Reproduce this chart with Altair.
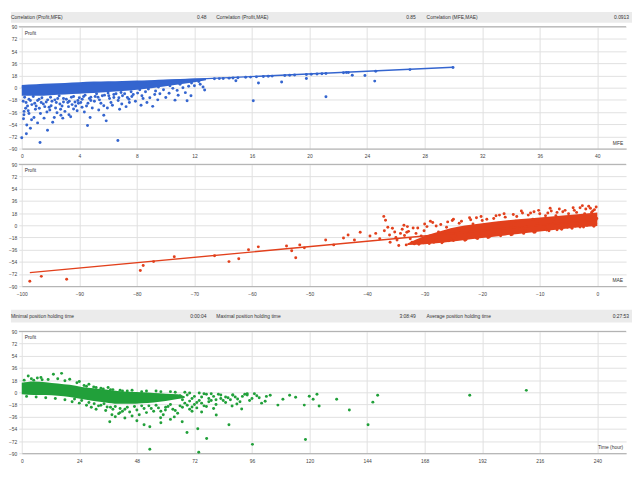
import altair as alt
import pandas as pd

FONT = "Liberation Sans Narrow, Liberation Sans, Arial, sans-serif"
W = 615
H = 124

y_ticks = [-90, -72, -54, -36, -18, 0, 18, 36, 54, 72, 90]

# ---------------- panel 1 : Profit vs MFE ----------------
mfe_ticks = [0, 4, 8, 12, 16, 20, 24, 28, 32, 36, 40]
mfe_band_x = [0, 1, 2, 3, 4, 5, 6, 7, 8, 9, 10, 11, 12, 12.8]
mfe_band_hi = [4, 5, 6, 7, 8, 9, 9.5, 10, 10.5, 11, 12, 12.8, 13.5, 14]
mfe_band_lo = [-12, -12, -11, -10, -9, -8, -6.5, -5, -3, -1, 2, 5, 8, 11]
mfe_points = [
    [0, -74], [0.32, -68], [1.27, -81], [1.79, -63], [0.68, -47.5], [0.16, -35], [0.12, -46],
    [2.15, -51], [2.26, -44], [2.72, -40.6], [3.28, -40], [4.57, -56], [5.7, -40.6], [5.87, -49],
    [6.68, -78], [4.19, -29], [3.94, -23], [0.27, -30.5], [0.95, -32], [1.22, -30.5], [1.75, -36],
    [0.45, -34], [2.04, -26.6], [2.65, -24], [3.0, -35], [3.2, -22], [3.6, -31.5], [4.2, -17],
    [4.8, -19], [5.1, -13], [5.7, -26.6], [6.2, -22], [6.4, -14.5], [6.8, -32], [6.7, -19],
    [0.2, -14], [0.5, -17], [0.8, -13], [1.1, -19], [1.4, -15], [1.7, -21], [2.0, -14], [2.3, -18],
    [2.6, -12], [2.9, -16], [3.3, -20], [3.6, -13], [4.0, -15], [4.4, -11], [4.8, -14], [5.2, -9],
    [5.6, -12], [6.0, -8], [6.4, -10], [6.9, -7], [0.3, -22], [0.7, -25], [1.0, -27], [1.5, -24],
    [1.9, -29], [2.4, -22], [2.8, -27], [3.5, -25], [3.9, -19], [4.6, -23], [5.4, -18], [6.1, -16],
    [7.0, -12], [7.6, -6], [8.2, -3], [8.8, -2], [9.5, 1], [10.3, 3], [11, 5], [11.8, 7], [12.3, 9],
    [7.48, -21.8], [8.43, -16], [9.1, -27.6], [9.24, -10.2], [8.29, -26], [7.75, -10], [7.34, -14.5],
    [10.87, -11.2], [11.37, -7.3], [10.24, -8.3], [11.76, -12], [10.01, -14.5], [10.65, -18.4],
    [11.49, -19.3], [16.09, -19.3], [21.14, -13.5], [12.71, -3.3],
    [14.88, 10.2], [16.45, 6.8], [18.06, 8.3], [19.78, 13.5], [22.97, 18.4], [23.85, 17.9], [24.53, 9.7],
    [13.39, 13.1], [13.73, 13.4], [14.0, 13.7], [14.41, 14.1], [14.68, 14.4], [15.02, 14.7],
    [15.56, 15.3], [15.9, 15.6], [16.31, 16.0], [16.79, 16.5], [17.13, 16.8], [17.4, 17.1],
    [18.28, 18.0], [18.62, 18.3], [18.96, 18.7], [19.78, 19.5], [20.12, 19.8], [20.52, 20.2],
    [20.86, 20.6], [21.14, 20.9], [22.36, 22.1], [22.56, 22.3], [22.7, 22.4], [24.6, 24.3],
    [26.98, 26.7], [29.97, 29.8],
    [0.1, -20], [0.4, -27], [0.6, -19], [0.9, -23], [0.15, -40], [0.5, -38], [0.85, -44],
    [0.35, -55], [0.6, -60], [1.2, -17], [1.35, -22], [1.6, -28], [1.8, -18], [1.95, -33],
    [1.3, -38], [1.55, -45], [1.1, -52], [2.1, -20], [2.35, -30], [2.5, -16], [2.7, -32],
    [2.9, -21], [2.45, -37], [2.85, -45], [3.1, -17], [3.25, -28], [3.45, -14], [3.7, -21],
    [3.85, -34], [3.4, -43], [3.75, -27], [4.1, -22], [4.3, -13], [4.5, -27], [4.7, -16],
    [4.9, -30], [4.35, -36], [4.75, -44], [5.05, -20], [5.3, -14], [5.5, -23], [5.75, -11],
    [5.95, -30], [5.35, -33], [6.05, -12], [6.3, -26], [6.55, -9], [6.75, -15], [6.95, -24],
    [7.15, -9], [7.45, -17], [7.65, -13], [7.9, -20], [7.25, -28], [8.05, -8], [8.35, -12],
    [8.6, -6], [8.9, -15], [8.7, -22], [9.3, -5], [9.6, -9], [9.85, -3], [9.45, -18],
    [10.5, -1], [10.8, -4], [11.2, 0], [11.6, 2], [12.0, 3], [12.4, 5], [12.6, 1],
]
mfe_fit_x = [0, 29.97]
mfe_fit_y = [0.8, 30.1]

# ---------------- panel 2 : Profit vs MAE ----------------
mae_ticks = [-100, -90, -80, -70, -60, -50, -40, -30, -20, -10, 0]
mae_band_x = [-33, -30, -27, -24, -20, -16, -12, -8, -4, 0]
mae_band_hi = [-27, -16, -8, -2, 3, 7, 10, 13, 16, 19]
mae_band_lo = [-29, -28, -26, -23, -19, -15, -11, -7.5, -3.5, -1]
mae_points = [
    [-98.6, -82.7], [-96.6, -75.5], [-92.2, -79.8], [-79.4, -66.8], [-78.9, -59.5], [-77.1, -53.7],
    [-73.5, -46.4], [-66.5, -45], [-64.0, -53.7], [-62.3, -49.4], [-60.6, -36.3], [-58.9, -31.9],
    [-54.0, -30.5], [-53.1, -37.7], [-52.4, -47.9], [-51.7, -29], [-50.9, -33.4], [-47.2, -21.8],
    [-45.8, -29], [-44.1, -18.9], [-43.3, -14.5], [-42.2, -21.8], [-41.2, -10.2], [-39.5, -16],
    [-37.1, 13.1], [-36.8, 7.3], [-36.1, -14.5], [-35.6, -4.4], [-34.8, -21.8], [-33.9, -5.8],
    [-33.1, -10.2],
    [-32, -4], [-30, 2], [-28, -1], [-26, 5], [-24, 3], [-22, 8], [-20, 7], [-18, 10], [-16, 12],
    [-14, 13], [-12, 15], [-10, 17], [-8, 21], [-7, 19], [-6, 20], [-4, 22], [-3, 26], [-2, 24],
    [-1, 19], [-0.5, 23], [-13, 18], [-9, 14], [-5, 17], [-1.5, 28], [-11, 20], [-17, 15],
    [-21, 11], [-25, 9], [-29, 6], [-33, -2],
    [-34.5, -30], [-31, -28], [-27, -26], [-23, -22], [-19, -18], [-15, -14], [-11, -10.5],
    [-7, -6.5], [-3, -2.5], [-36, -25], [-35, -18], [-33.5, -15], [-32.5, -20], [-31.5, -12],
    [-30.5, -24], [-29, -16], [-28, -22], [-26.5, -12], [-25.5, -20], [-24, -8], [-22.5, -14],
    [-21, -19], [-19.5, -5], [-18, -12], [-16.5, -8], [-15, 0], [-13.5, -6], [-12, -2],
    [-10.5, 2], [-9, -4], [-7.5, 5], [-6, 0], [-4.5, 9], [-3.5, 3], [-2, 6], [-1, 12], [-0.3, 3],
    [-38.5, -12], [-37.8, -20], [-37, -8], [-36.4, -3], [-35.2, -10], [-34.2, -12], [-33.6, 0],
    [-32.8, -9], [-32.2, -25], [-31.2, -4], [-30.6, -16], [-30.1, -8], [-29.6, -2], [-29.2, -27],
    [-28.6, 4], [-27.6, -10], [-27.2, 1], [-26.2, -3], [-25.8, -23], [-25.2, 7], [-24.6, -16],
    [-23.6, 6], [-23.2, -4], [-22.2, 11], [-21.6, 2], [-20.6, -12], [-20.2, 13], [-19.2, 9],
    [-18.6, -16], [-17.6, 14], [-17.2, 3], [-16.2, 17], [-15.6, -10], [-14.6, 16], [-14.2, 6],
    [-13.2, 21], [-12.6, -8], [-11.6, 18], [-11.2, 9], [-10.2, 22], [-9.6, -6], [-8.6, 18],
    [-8.2, 25], [-7.2, 14], [-6.6, 24], [-5.6, 22], [-5.2, -3], [-4.2, 26], [-3.6, 19],
    [-2.6, 29], [-2.2, 17], [-1.2, 25], [-0.8, 21], [-0.2, 27], [-0.1, 10], [-1.8, 0],
    [-3.8, -1], [-6.4, -4], [-8.8, -7],
    [-33.2, -29], [-31.8, -27.5], [-30.2, -26], [-28.4, -25], [-26.8, -24], [-25, -22.5],
    [-22.8, -21], [-20.8, -19.5], [-18.8, -17.5], [-16.8, -15.5], [-14.8, -13.5],
    [-12.8, -12], [-10.8, -10], [-8.4, -8], [-6.2, -6], [-4.4, -4.5], [-2.4, -2.5], [-0.6, -1.5],
]
mae_fit_x = [-98.6, 0]
mae_fit_y = [-70, 8]

# ---------------- panel 3 : Profit vs holding time ----------------
time_ticks = [0, 24, 48, 72, 96, 120, 144, 168, 192, 216, 240]
time_band_x = [0, 5, 10, 15, 20, 25, 30, 35, 40, 45, 50, 55, 60, 65, 68]
time_band_hi = [14, 16, 15, 13, 11, 8, 6, 4, 2, 1, 0, -1, -2, -3, -6]
time_band_lo = [-3, -4, -4, -5, -7, -10, -13, -15, -17, -17, -16, -15, -13, -10, -8]
time_points = [
    [2.7, 24], [13.2, 26.6], [16.6, 28], [20, 19.3], [1, 18], [4, 20], [6.5, 21], [8.5, 18.5],
    [11, 19], [15, 20], [18, 17], [23, 14], [26, 10], [28, 12], [33, 6], [37, 4], [42, 2], [8, 22],
    [5, 18], [24, 16], [30, 8], [36, 7], [44, 2], [50, 1], [56, 2], [62, 1], [68, 0], [74, -1],
    [79, -2],
    [34.3, -17], [36.7, -43.5], [37.6, -33], [40.4, -31.5], [41, -24], [35.6, -21.8], [30.2, -17],
    [51.0, -47.9], [53.4, -50.8], [57.9, -37.7], [59.9, -26.1], [63.6, -36.3], [66.9, -43.5],
    [68.9, -59.5], [71.0, -21.8], [73.4, -53.7], [75.0, -29], [77.1, -68.2], [81.1, -33.4],
    [86.4, -47.9], [87.7, -20.3], [89.7, -17.4], [91.7, -24.7], [96.2, -76.9], [101.5, -13.1],
    [103.6, -4.4], [106.8, -18.9], [108.9, -10.2], [111.7, -4.4], [114.2, -7.3], [117.8, -18.9],
    [119.9, -5.8], [121.5, -10.2], [123.1, -2.9], [124.0, -20.3], [131.3, -10.2], [136.6, -26.1],
    [144.4, -47.9], [146.4, -14.5], [148.4, -4.4], [186.8, -4.4], [210.4, 2.9],
    [53.4, -84.2], [73.8, -88.5], [118.3, -69.7],
    [32, -20], [38, -25], [42, -28], [44, -22], [46, -35], [48, -26], [50, -20], [52, -30],
    [54, -24], [56, -19], [58, -28], [60, -22], [62, -18], [64, -27], [66, -20], [68, -16],
    [70, -25], [72, -18], [76, -20], [78, -14], [80, -24], [84, -12], [86, -8], [88, -4],
    [90, -10], [92, -6], [94, -2], [96, -9], [98, -5], [28, -15], [25, -12], [22, -10],
    [2, -6], [6, -7], [10, -8], [14, -9], [18, -11], [21, -14], [24, -16], [27, -19], [29, -22],
    [31, -25], [33, -19], [35, -27], [37, -22], [39, -21], [41, -30], [43, -25], [45, -29],
    [47, -21], [49, -33], [51, -24], [53, -20], [55, -28], [57, -23], [59, -33], [61, -21],
    [63, -25], [65, -31], [67, -22], [69, -19], [71, -28], [73, -23], [75, -16], [77, -21],
    [79, -12], [81, -18], [83, -9], [85, -15], [87, -11], [89, -7], [91, -14], [93, -3],
    [95, -12], [97, -2], [99, -8], [100, -16], [102, -6], [43, -38], [48, -42], [58, -45],
    [62, -40], [39, -36],
    [27, 9], [31, 7], [34, 5], [38, 4], [41, 3], [46, 3], [52, 2], [58, 1], [64, 0], [70, -1],
    [76, -2], [82, -3], [88, -4], [94, -4],
    [69, -4], [71, -9], [72, -6], [74, -12], [75, -7], [77, -3], [78, -9], [80, -6], [81, -11],
    [83, -4], [85, -7], [70, -13], [73, -15], [67, -11], [66, -5],
]

header1_labels = ["Correlation (Profit,MFE)", "Correlation (Profit,MAE)", "Correlation (MFE,MAE)"]
header1_values = ["0.48", "0.85", "0.0913"]
header2_labels = ["Minimal position holding time", "Maximal position holding time",
                  "Average position holding time"]
header2_values = ["0:00:04", "3:08:49", "0:27:53"]

one = pd.DataFrame({"k": [0]})
LABEL_X = [-11, 198, 412]
VALUE_X = [188, 401, 618]


def header_layers(labels, values, y0, y1):
    layers = [alt.Chart(one).mark_rect(color="#ebebeb").encode(
        x=alt.value(-11), x2=alt.value(W + 6), y=alt.value(y0), y2=alt.value(y1))]
    ym = (y0 + y1) / 2
    for lab, val, lx, vx in zip(labels, values, LABEL_X, VALUE_X):
        layers.append(alt.Chart(one).mark_text(text=lab, align="left", baseline="middle",
                                               font=FONT, fontSize=5, color="#333")
                      .encode(x=alt.value(lx), y=alt.value(ym)))
        layers.append(alt.Chart(one).mark_text(text=val, align="right", baseline="middle",
                                               font=FONT, fontSize=5, color="#333")
                      .encode(x=alt.value(vx), y=alt.value(ym)))
    return layers


def panel(band_x, band_lo, band_hi, points, fit_x, fit_y, color, xdom, xticks, xname,
          ftop, fbot, header=None):
    xs = alt.Scale(domain=xdom, nice=False, zero=False)
    ys = alt.Scale(domain=[-90, 90], nice=False)
    xa = alt.Axis(values=xticks, title=None, labelFlush=False)
    ya = alt.Axis(values=y_ticks, title=None)
    band_df = pd.DataFrame({"x": band_x, "lo": band_lo, "hi": band_hi})
    pts_df = pd.DataFrame(points, columns=["x", "y"])
    layers = []
    layers.append(alt.Chart(one).mark_rect(opacity=0).encode(
        x=alt.value(-11), x2=alt.value(W + 6), y=alt.value(ftop), y2=alt.value(fbot)))
    if header is not None:
        layers += header
    layers.append(alt.Chart(one).mark_rule(color="#a9a9a9", strokeWidth=1).encode(
        x=alt.value(-3), x2=alt.value(W), y=alt.value(0)))
    layers.append(alt.Chart(band_df).mark_area(color=color, opacity=1, interpolate="monotone").encode(
        x=alt.X("x:Q", scale=xs, axis=xa), y=alt.Y("lo:Q", scale=ys, axis=ya), y2="hi:Q"))
    layers.append(alt.Chart(pts_df).mark_circle(color=color, size=9, opacity=1).encode(
        x=alt.X("x:Q", scale=xs, axis=xa), y=alt.Y("y:Q", scale=ys, axis=ya)))
    if fit_x is not None:
        fit_df = pd.DataFrame({"x": fit_x, "y": fit_y})
        layers.append(alt.Chart(fit_df).mark_line(color=color, strokeWidth=1.4).encode(
            x=alt.X("x:Q", scale=xs, axis=xa), y=alt.Y("y:Q", scale=ys, axis=ya)))
    layers.append(alt.Chart(one).mark_text(text="Profit", align="left", baseline="middle",
                                           font=FONT, fontSize=5, color="#333")
                  .encode(x=alt.value(3), y=alt.value(6)))
    layers.append(alt.Chart(one).mark_text(text=xname, align="right", baseline="middle",
                                           font=FONT, fontSize=5, color="#333")
                  .encode(x=alt.value(W - 3), y=alt.value(H - 6)))
    return alt.layer(*layers).properties(width=W, height=H)


c1 = panel(mfe_band_x, mfe_band_lo, mfe_band_hi, mfe_points, mfe_fit_x, mfe_fit_y, "#3465cf",
           [0, 42], mfe_ticks, "MFE", -15, 136,
           header_layers(header1_labels, header1_values, -15, -4))
c2 = panel(mae_band_x, mae_band_lo, mae_band_hi, mae_points, mae_fit_x, mae_fit_y, "#e2401c",
           [-100, 5], mae_ticks, "MAE", -4, 146)
c3 = panel(time_band_x, time_band_lo, time_band_hi, time_points, None, None, "#21a03a",
           [0, 252], time_ticks, "Time (hour)", -24, 139,
           header_layers(header2_labels, header2_values, -22, -9))

chart = alt.vconcat(c1, c2, c3, spacing=0).properties(
    padding={"left": 0, "right": 0, "top": 0, "bottom": 0}, background="white"
).configure_axis(
    labelFont=FONT, labelFontSize=5, labelColor="#444", gridColor="#e0e0e0", gridWidth=1,
    domain=False, ticks=False, labelPadding=2
).configure_axisX(
    domain=True, domainColor="#a9a9a9", labelPadding=5
).configure_axisY(
    ticks=True, tickSize=3, tickColor="#e0e0e0"
).configure_view(stroke=None)

chart.save("out.html", embed_options={"renderer": "svg", "actions": False})
